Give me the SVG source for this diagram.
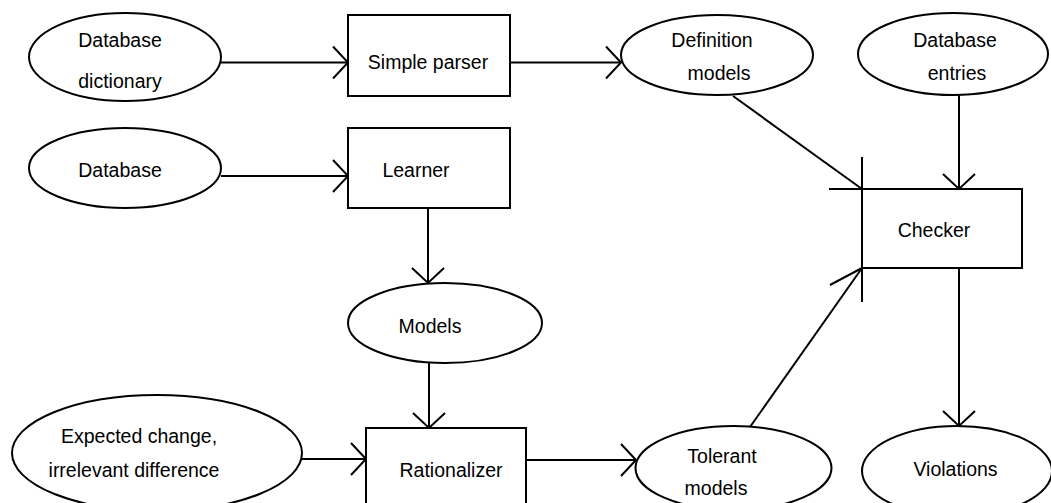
<svg xmlns="http://www.w3.org/2000/svg" width="1051" height="503" viewBox="0 0 1051 503">
<style>
  .shape { fill: #ffffff; stroke: #000000; stroke-width: 2; }
  .line { fill: none; stroke: #000000; stroke-width: 2; }
  .label { font-family: "Liberation Sans", Arial, sans-serif; font-size: 19.5px; fill: #000000; text-anchor: middle; }
</style>
<defs>
  <marker id="arrow" markerUnits="userSpaceOnUse" markerWidth="40" markerHeight="40" viewBox="-20 -20 40 40" refX="0" refY="0" orient="auto" overflow="visible">
    <path d="M -15 -16 L 0 0 L -15 16" fill="none" stroke="#000000" stroke-width="2"/>
  </marker>
</defs>
<rect width="1051" height="503" fill="#ffffff"/>

<g id="connectors">
  <line class="line" x1="221" y1="62.5" x2="348" y2="62.5" marker-end="url(#arrow)"/>
  <line class="line" x1="510" y1="62.5" x2="621" y2="62.5" marker-end="url(#arrow)"/>
  <line class="line" x1="221" y1="176" x2="348" y2="176" marker-end="url(#arrow)"/>
  <line class="line" x1="428" y1="208" x2="428" y2="283" marker-end="url(#arrow)"/>
  <line class="line" x1="429" y1="363" x2="429" y2="428" marker-end="url(#arrow)"/>
  <line class="line" x1="302" y1="459" x2="366" y2="459" marker-end="url(#arrow)"/>
  <line class="line" x1="526" y1="460" x2="636" y2="460" marker-end="url(#arrow)"/>
  <line class="line" x1="959" y1="95" x2="959" y2="189" marker-end="url(#arrow)"/>
  <line class="line" x1="959" y1="268" x2="959" y2="426" marker-end="url(#arrow)"/>
  <line class="line" x1="733" y1="96" x2="862" y2="189"/>
  <path class="line" d="M 862 157 L 862 189 L 829 189"/>
  <line class="line" x1="750" y1="427" x2="862" y2="268"/>
  <path class="line" d="M 830 285 L 862 268 L 862 302"/>
</g>

<g id="database-dictionary">
  <ellipse class="shape" cx="125" cy="57" rx="96" ry="44"/>
  <text class="label" x="120" y="47">Database</text>
  <text class="label" x="120" y="88">dictionary</text>
</g>
<g id="simple-parser">
  <rect class="shape" x="348" y="15" width="162" height="81"/>
  <text class="label" x="428" y="69">Simple parser</text>
</g>
<g id="definition-models">
  <ellipse class="shape" cx="717" cy="55" rx="96" ry="40"/>
  <text class="label" x="712" y="47">Definition</text>
  <text class="label" x="719" y="80">models</text>
</g>
<g id="database-entries">
  <ellipse class="shape" cx="953" cy="54" rx="95" ry="41"/>
  <text class="label" x="955" y="47">Database</text>
  <text class="label" x="957" y="80">entries</text>
</g>
<g id="database">
  <ellipse class="shape" cx="125" cy="168" rx="96" ry="40"/>
  <text class="label" x="120" y="177">Database</text>
</g>
<g id="learner">
  <rect class="shape" x="348" y="128" width="162" height="80"/>
  <text class="label" x="416" y="177">Learner</text>
</g>
<g id="checker">
  <rect class="shape" x="862" y="189" width="160" height="79"/>
  <text class="label" x="934" y="237">Checker</text>
</g>
<g id="models">
  <ellipse class="shape" cx="445" cy="323" rx="97" ry="40"/>
  <text class="label" x="430" y="333">Models</text>
</g>
<g id="expected-change">
  <ellipse class="shape" cx="157" cy="453" rx="145" ry="58"/>
  <text class="label" x="139" y="443">Expected change,</text>
  <text class="label" x="134" y="477">irrelevant difference</text>
</g>
<g id="rationalizer">
  <rect class="shape" x="366" y="428" width="160" height="90"/>
  <text class="label" x="451" y="477">Rationalizer</text>
</g>
<g id="tolerant-models">
  <ellipse class="shape" cx="733.5" cy="468" rx="98" ry="42"/>
  <text class="label" x="722" y="463">Tolerant</text>
  <text class="label" x="716" y="495">models</text>
</g>
<g id="violations">
  <ellipse class="shape" cx="957" cy="471" rx="95" ry="45"/>
  <text class="label" x="955.5" y="476">Violations</text>
</g>
</svg>
